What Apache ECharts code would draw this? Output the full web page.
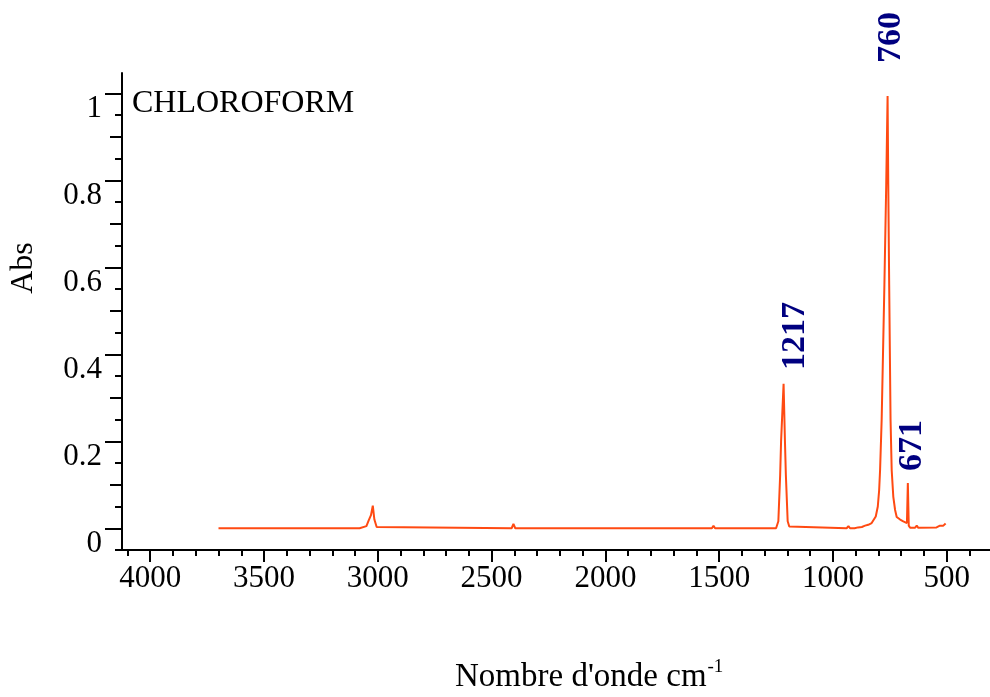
<!DOCTYPE html>
<html>
<head>
<meta charset="utf-8">
<title>CHLOROFORM – spectre IR</title>
<script src="https://cdn.jsdelivr.net/npm/echarts@6/dist/echarts.min.js"></script>
<style>
  html, body { margin: 0; padding: 0; background: #ffffff; }
  #chart { width: 990px; height: 697px; }
</style>
</head>
<body>
<div id="chart"></div>
<script>
// IR absorbance spectrum of chloroform (wavenumber in cm-1, absorbance)
const waves = [
  3700, 3080, 3078, 3050, 3040, 3030, 3022, 3015, 3005, 3000,
  2412, 2404, 2396,
  1532, 1525, 1518,
  1250, 1244, 1240, 1232, 1228, 1217, 1211, 1207, 1199, 1192, 1185,
  940, 932, 925,
  905, 890, 873, 859, 845, 830, 812, 803, 797, 793, 786, 774, 766,
  760, 757, 753, 747, 742, 735, 727, 720, 705, 691, 683, 675,
  671, 667, 661, 640, 632, 625, 545, 530, 515, 505, 503
];
const absorb = [
  0.000, 0.000, 0.004, 0.005, 0.018, 0.030, 0.052, 0.020, 0.003, 0.000,
  0.000, 0.010, 0.000,
  0.000, 0.006, 0.000,
  0.000, 0.004, 0.016, 0.123, 0.200, 0.332, 0.200, 0.123, 0.016, 0.004, 0.000,
  0.000, 0.005, 0.000,
  0.000, 0.002, 0.003, 0.006, 0.008, 0.012, 0.027, 0.050, 0.088, 0.134, 0.250, 0.560, 0.790,
  0.994, 0.790, 0.560, 0.250, 0.134, 0.073, 0.042, 0.026, 0.020, 0.016, 0.012, 0.012,
  0.104, 0.006, 0.001, 0.001, 0.006, 0.001, 0.002, 0.006, 0.006, 0.011, 0.011
];

// Annotated band positions (cm-1)
const peakWaves = [1217, 760, 671];

// Axis tick positions
const xMajorTicks = [4000, 3500, 3000, 2500, 2000, 1500, 1000, 500];
const xMinorTicks = [4100, 3900, 3800, 3700, 3600, 3400, 3300, 3200, 3100, 2900, 2800, 2700, 2600,
                     2400, 2300, 2200, 2100, 1900, 1800, 1700, 1600, 1400, 1300, 1200, 1100,
                     900, 800, 700, 600, 400];
const yMajorTicks = [0, 0.2, 0.4, 0.6, 0.8, 1];
const yMidTicks = [0.1, 0.3, 0.5, 0.7, 0.9];
const yMinorTicks = [-0.05, 0.05, 0.15, 0.25, 0.35, 0.45, 0.55, 0.65, 0.75, 0.85, 0.95];

const SERIF = '"Liberation Serif", "Times New Roman", serif';
const X_MIN = 310, X_MAX = 4124;
const Y_MIN = -0.05, Y_MAX = 1.047;

const spectrum = waves.map((w, i) => [w, absorb[i]]);

// Label offsets per band, in the rotated label frame: [along the text (upwards), across (rightwards)]
const peakLabelOffsets = { 1217: [14, 12], 760: [33, 4], 671: [12, 4] };
const peakData = peakWaves.map(w => {
  const i = waves.indexOf(w);
  return {
    value: [w, absorb[i]],
    label: { offset: peakLabelOffsets[w] }
  };
});

function xAxisDef(ticks, len, showLabels, showLine) {
  return {
    type: 'value',
    inverse: true,
    min: X_MIN,
    max: X_MAX,
    position: 'bottom',
    axisLine: { show: showLine, onZero: false, lineStyle: { color: '#000', width: 2 } },
    axisTick: { show: true, customValues: ticks, length: len, inside: false,
                lineStyle: { color: '#000', width: 2 } },
    axisLabel: { show: showLabels, customValues: ticks, margin: 13, color: '#000',
                 fontFamily: SERIF, fontSize: 31, verticalAlign: 'top',
                 formatter: v => String(v) },
    splitLine: { show: false }
  };
}
function yAxisDef(ticks, len, showLabels, showLine) {
  return {
    type: 'value',
    min: Y_MIN,
    max: Y_MAX,
    position: 'left',
    axisLine: { show: showLine, onZero: false, lineStyle: { color: '#000', width: 2 } },
    axisTick: { show: true, customValues: ticks, length: len, inside: false,
                lineStyle: { color: '#000', width: 2 } },
    axisLabel: { show: showLabels, customValues: ticks, margin: 20, color: '#000',
                 fontFamily: SERIF, fontSize: 31, verticalAlign: 'top',
                 formatter: v => String(v) },
    splitLine: { show: false }
  };
}

const chart = echarts.init(document.getElementById('chart'), null, { renderer: 'canvas' });
chart.setOption({
  backgroundColor: '#ffffff',
  animation: false,
  grid: { left: 122, right: 0, top: 73, bottom: 147, containLabel: false },
  xAxis: [
    xAxisDef(xMajorTicks, 12, true, true),
    xAxisDef(xMinorTicks, 6, false, false)
  ],
  yAxis: [
    yAxisDef(yMajorTicks, 17, true, true),
    yAxisDef(yMidTicks, 12, false, false),
    yAxisDef(yMinorTicks, 7, false, false)
  ],
  series: [
    {
      name: 'CHLOROFORM',
      type: 'line',
      xAxisIndex: 0,
      yAxisIndex: 0,
      data: spectrum,
      showSymbol: false,
      symbol: 'none',
      lineStyle: { color: '#ff4a12', width: 2 },
      silent: true
    },
    {
      name: 'bandes',
      type: 'scatter',
      xAxisIndex: 0,
      yAxisIndex: 0,
      symbolSize: 0,
      silent: true,
      itemStyle: { opacity: 1 },
      data: peakData,
      label: {
        show: true,
        position: 'top',
        distance: 0,
        rotate: 90,
        align: 'left',
        verticalAlign: 'middle',
        formatter: p => String(p.value[0]),
        color: '#000080',
        fontFamily: SERIF,
        fontWeight: 'bold',
        fontSize: 34
      }
    }
  ],
  graphic: [
    {
      type: 'text',
      left: 132,
      top: 88,
      style: { text: 'CHLOROFORM', fill: '#000', font: '32px ' + SERIF }
    },
    {
      type: 'text',
      x: 24,
      y: 268,
      rotation: Math.PI / 2,
      style: { text: 'Abs', fill: '#000', font: '32px ' + SERIF,
               align: 'center', verticalAlign: 'middle' }
    },
    {
      type: 'text',
      x: 455,
      y: 676,
      style: {
        text: '{m|Nombre d\'onde cm}{s|-1}',
        fill: '#000',
        align: 'left',
        verticalAlign: 'middle',
        rich: {
          m: { font: '33px ' + SERIF, fill: '#000', verticalAlign: 'bottom', lineHeight: 36 },
          s: { font: '19px ' + SERIF, fill: '#000', verticalAlign: 'top', lineHeight: 36, padding: [0, 0, 0, 1] }
        }
      }
    }
  ]
});
</script>
</body>
</html>
